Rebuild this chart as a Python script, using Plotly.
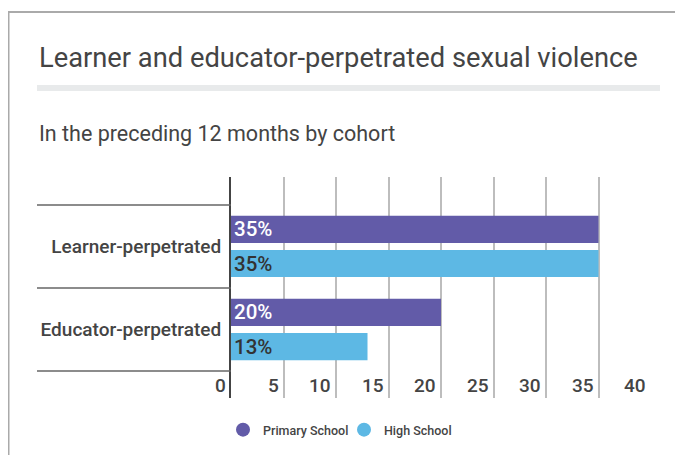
import plotly.graph_objects as go

categories = ["Learner-perpetrated", "Educator-perpetrated"]
primary = [35, 20]
high = [35, 13]
series_names = ["Primary School", "High School"]
x_ticks = [0, 5, 10, 15, 20, 25, 30, 35, 40]
x_tick_labels = ["0", "5", "10", "15", "20", "25", "30", "35", "40"]

title = "Learner and educator-perpetrated sexual violence"
subtitle = "In the preceding 12 months by cohort"

PURPLE = "#625ba8"
BLUE = "#5db8e4"
TXT = "#444444"
FONT = "Roboto"

# page offset of the figure inside the html body (default 8px body margin)
OFF = 8
W, H = 683, 455
# plot area in page coordinates: x 231..651, y 177..398
L = 231 - OFF
T = 177 - OFF
R = W - (651 - OFF)
B = H - (398 - OFF)
PW, PH = W - L - R, H - T - B


def px(xp):
    return (xp - OFF - L) / PW


def py(yp):
    return (H - B - (yp - OFF)) / PH


fig = go.Figure()
for name, vals, col, tcol in [(series_names[0], primary, PURPLE, "white"),
                               (series_names[1], high, BLUE, "#333333")]:
    fig.add_trace(go.Bar(
        y=categories, x=vals, orientation="h", name=name,
        marker=dict(color=col, line=dict(width=0)),
        text=[f"{v}%" for v in vals], textposition="inside",
        insidetextanchor="start", constraintext="none",
        textfont=dict(family=FONT, size=20.5, color=tcol, weight=500),
        showlegend=False, hoverinfo="skip",
    ))
    fig.add_trace(go.Scatter(
        x=[None], y=[None], mode="markers", name=name,
        marker=dict(color=col, size=14, symbol="circle"),
        showlegend=True,
    ))

shapes = []
# card border
shapes.append(dict(type="rect", xref="paper", yref="paper",
                   x0=px(8.5), x1=px(W + 30), y0=py(H + 30), y1=py(12),
                   line=dict(color="#aaaaaa", width=2), fillcolor="rgba(0,0,0,0)", layer="below"))
# title underline
shapes.append(dict(type="rect", xref="paper", yref="paper",
                   x0=px(37), x1=px(660), y0=py(91), y1=py(85),
                   line=dict(width=0), fillcolor="#e8eaeb"))
# category separators
for yv in [-0.5, 0.5, 1.5]:
    shapes.append(dict(type="line", xref="paper", yref="y",
                       x0=px(37), x1=0, y0=yv, y1=yv,
                       line=dict(color="#666666", width=1.5)))

annotations = [
    dict(text=title, xref="paper", yref="paper", x=px(37), y=py(58),
         xanchor="left", yanchor="middle", showarrow=False,
         font=dict(family=FONT, size=27.3, color=TXT)),
    dict(text=subtitle, xref="paper", yref="paper", x=px(37), y=py(133),
         xanchor="left", yanchor="middle", showarrow=False,
         font=dict(family=FONT, size=21.5, color=TXT)),
]
for t, lab in zip(x_ticks, x_tick_labels):
    annotations.append(dict(text=lab, xref="x", yref="paper", x=t, y=py(385),
                            xanchor="right", yanchor="middle", xshift=-3,
                            showarrow=False,
                            font=dict(family=FONT, size=19, color=TXT, weight=500)))

fig.update_layout(
    width=W, height=H,
    margin=dict(l=L, r=R, t=T, b=B),
    paper_bgcolor="white", plot_bgcolor="white",
    barmode="group", bargap=0.18, bargroupgap=0.2,
    font=dict(family=FONT, color=TXT),
    shapes=shapes, annotations=annotations,
    legend=dict(orientation="h", x=px(344), xanchor="center",
                y=py(430), yanchor="middle",
                font=dict(family=FONT, size=12.5, color=TXT, weight=500),
                itemwidth=30, entrywidth=76, entrywidthmode="pixels"),
    xaxis=dict(range=[0, 40], tickvals=x_ticks, showgrid=True,
               gridcolor="#bdbdbd", gridwidth=1.5, zeroline=False,
               showticklabels=False, showline=False, fixedrange=True),
    yaxis=dict(type="category", categoryorder="array", categoryarray=categories,
               range=[1.825, -0.837], showline=True, linecolor="#444444",
               linewidth=2, showgrid=False, zeroline=False, ticks="",
               ticklabelstandoff=4,
               tickfont=dict(family=FONT, size=19, color=TXT, weight=500),
               fixedrange=True),
)

fig.write_html("out.html")
